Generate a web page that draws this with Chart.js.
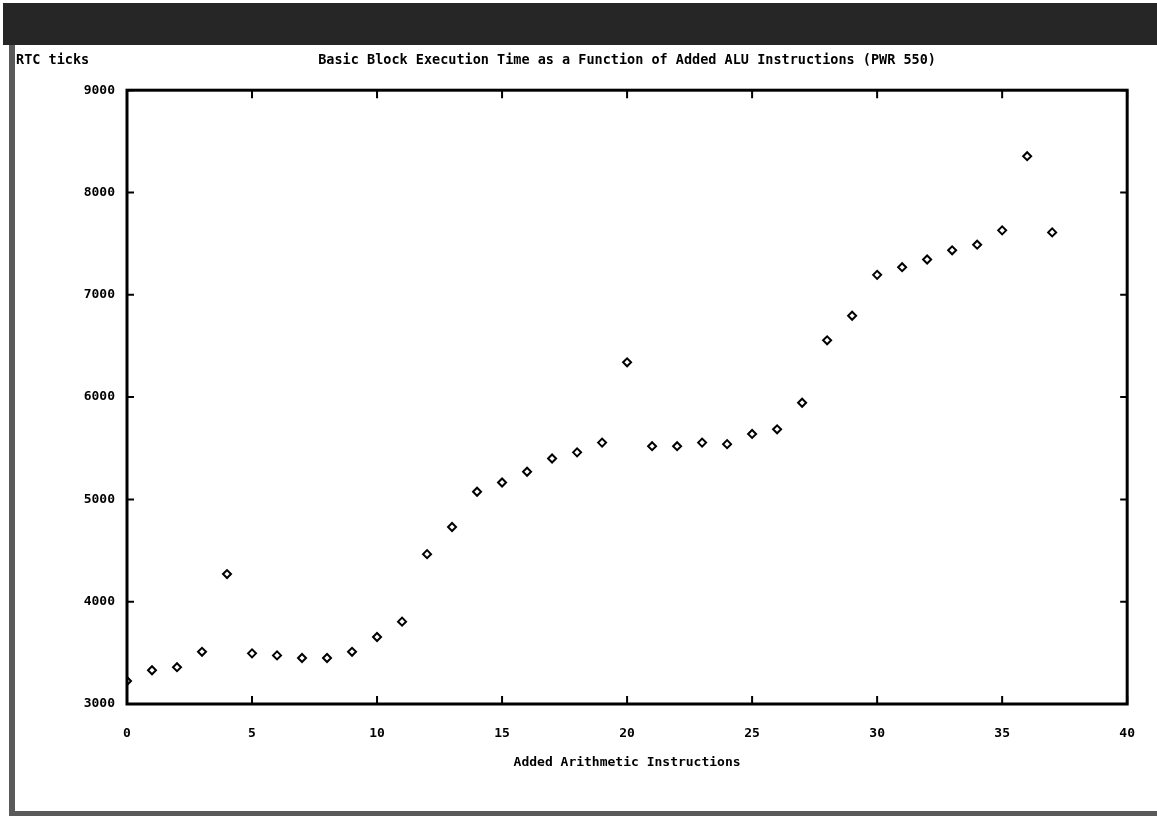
<!DOCTYPE html>
<html>
<head>
<meta charset="utf-8">
<script src="https://cdn.jsdelivr.net/npm/chart.js@4/dist/chart.umd.min.js"></script>
<style>
  html, body { margin: 0; padding: 0; background: #fff; }
  #wrap { width: 1157px; height: 816px; }
</style>
</head>
<body>
<div id="wrap"><canvas id="chart_blockTime"></canvas></div>
<script>
// added ALU instructions vs RTC ticks
var addedInstructions = [0, 1, 2, 3, 4, 5, 6, 7, 8, 9, 10, 11, 12, 13, 14, 15, 16, 17, 18, 19,
                         20, 21, 22, 23, 24, 25, 26, 27, 28, 29, 30, 31, 32, 33, 34, 35, 36, 37];
var rtcTicks = [3225, 3330, 3360, 3510, 4270, 3495, 3475, 3450, 3450, 3510, 3655, 3805, 4465, 4730, 5075, 5165, 5270, 5400, 5460, 5555,
                6340, 5520, 5520, 5555, 5540, 5640, 5685, 5945, 6555, 6795, 7195, 7270, 7345, 7435, 7490, 7630, 8355, 7610];

var chartTitle = 'Basic Block Execution Time as a Function of Added ALU Instructions (PWR 550)';
var yAxisLabel = 'RTC ticks';
var xAxisLabel = 'Added Arithmetic Instructions';

var points = addedInstructions.map(function (x, i) { return { x: x, y: rtcTicks[i] }; });
var monoFont = '"DejaVu Sans Mono", "Liberation Mono", monospace';

var chart_blockTime = new Chart(document.getElementById('chart_blockTime'), {
    type: 'scatter',
    data: {
        datasets: [
            {
                label: 'block time',
                data: points,
                pointStyle: 'rectRot',
                pointRadius: 4,
                pointBorderWidth: 2,
                borderColor: '#000',
                backgroundColor: '#fff',
                clip: 0
            }
        ]
    },
    options: {
        animation: false,
        responsive: true,
        maintainAspectRatio: false,
        layout: {
            padding: { left: 0, top: 0, right: 29, bottom: 0 }
        },
        plugins: {
            legend: { display: false },
            tooltip: { enabled: false },
            title: {
                display: true,
                text: chartTitle,
                fullSize: false,
                color: '#000',
                font: { family: monoFont, size: 13.5, weight: 'bold', lineHeight: 1.2 },
                padding: { top: 52, bottom: 22 }
            }
        },
        scales: {
            x: {
                type: 'linear',
                min: 0,
                max: 40,
                afterFit: function (scale) { scale.height = 112; },
                ticks: {
                    stepSize: 5,
                    padding: 22,
                    color: '#000',
                    maxRotation: 0,
                    font: { family: monoFont, size: 13, weight: 'bold' }
                },
                grid: { drawOnChartArea: false, drawTicks: false },
                border: { display: false },
                title: {
                    display: true,
                    text: xAxisLabel,
                    color: '#000',
                    font: { family: monoFont, size: 13, weight: 'bold', lineHeight: 1.2 },
                    padding: { top: 0, bottom: 46 }
                }
            },
            y: {
                type: 'linear',
                min: 3000,
                max: 9000,
                afterFit: function (scale) { scale.width = 127; },
                ticks: {
                    stepSize: 1000,
                    padding: 12,
                    color: '#000',
                    font: { family: monoFont, size: 13, weight: 'bold' },
                    callback: function (v) { return String(v); }
                },
                grid: { drawOnChartArea: false, drawTicks: false },
                border: { display: false }
            }
        }
    },
    plugins: [{
        id: 'gnuplotFrame',
        beforeDraw: function (chart) {
            var ctx = chart.ctx;
            ctx.save();
            ctx.fillStyle = '#fff';
            ctx.fillRect(0, 0, chart.width, chart.height);
            // old window decoration
            ctx.fillStyle = '#262626';
            ctx.fillRect(3, 3, chart.width - 3, 42);
            ctx.fillStyle = '#5a5a5a';
            ctx.fillRect(9, 45, 6, chart.height - 45);
            ctx.fillRect(9, chart.height - 5, chart.width - 9, 5);
            ctx.restore();
        },
        afterDraw: function (chart) {
            var ctx = chart.ctx;
            var a = chart.chartArea;
            var xs = chart.scales.x, ys = chart.scales.y;
            ctx.save();
            ctx.strokeStyle = '#000';
            ctx.lineWidth = 3;
            ctx.strokeRect(a.left, a.top, a.right - a.left, a.bottom - a.top);
            ctx.lineWidth = 2;
            ctx.beginPath();
            xs.ticks.forEach(function (t) {
                var px = xs.getPixelForValue(t.value);
                ctx.moveTo(px, a.bottom); ctx.lineTo(px, a.bottom - 8);
                ctx.moveTo(px, a.top); ctx.lineTo(px, a.top + 8);
            });
            ys.ticks.forEach(function (t) {
                var py = ys.getPixelForValue(t.value);
                ctx.moveTo(a.left, py); ctx.lineTo(a.left + 7, py);
                ctx.moveTo(a.right, py); ctx.lineTo(a.right - 7, py);
            });
            ctx.stroke();
            // y axis label sits top-left, gnuplot style
            ctx.fillStyle = '#000';
            ctx.font = 'bold 13.5px ' + monoFont;
            ctx.textBaseline = 'middle';
            ctx.textAlign = 'left';
            ctx.fillText(yAxisLabel, 16, 60);
            ctx.restore();
        }
    }]
});
</script>
</body>
</html>
